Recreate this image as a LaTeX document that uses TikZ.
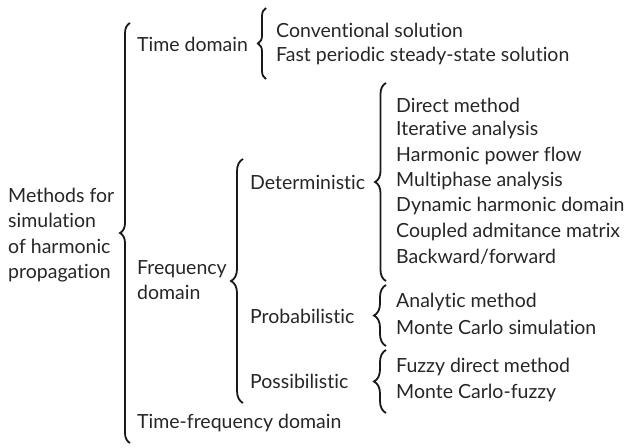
\documentclass[tikz,border=0pt]{standalone}
\usepackage{fontspec}
\setmainfont[Ligatures={CommonOff,ContextualOff}]{Lato}
\usetikzlibrary{decorations.pathreplacing}
\begin{document}
\begin{tikzpicture}[x=1pt,y=-1pt,
  lbl/.style={anchor=west,inner sep=0pt,font=\fontsize{19.5}{25.5}\selectfont,align=left,text=black!85},
  brc/.style={draw=black!90,line width=1.8pt,decorate,decoration={brace,amplitude=#1}}]
\useasboundingbox (0,0) rectangle (628,447);
% texts
\node[lbl] (root) at (8,235) {Methods for\\simulation\\of harmonic\\propagation};
\node[lbl] (time) at (137,44) {Time domain};
\node[lbl] (conv) at (276,30) {Conventional solution};
\node[lbl] (fast) at (276,56) {Fast periodic steady-state solution};
\node[lbl] (freq) at (137,280) {Frequency\\domain};
\node[lbl] (tf) at (137,423) {Time-frequency domain};
\node[lbl] (det) at (250,182) {Deterministic};
\node[lbl] (prob) at (250,316) {Probabilistic};
\node[lbl] (poss) at (250,381) {Possibilistic};
\node[lbl] (d1) at (396,105) {Direct method};
\node[lbl] (d2) at (396,130) {Iterative analysis};
\node[lbl] (d3) at (396,156) {Harmonic power flow};
\node[lbl] (d4) at (396,181) {Multiphase analysis};
\node[lbl] (d5) at (396,206) {Dynamic harmonic domain};
\node[lbl] (d6) at (396,232) {Coupled admitance matrix};
\node[lbl] (d7) at (396,257) {Backward/forward};
\node[lbl] (p1) at (396,302) {Analytic method};
\node[lbl] (p2) at (396,327) {Monte Carlo simulation};
\node[lbl] (s1) at (396,367) {Fuzzy direct method};
\node[lbl] (s2) at (396,393) {Monte Carlo-fuzzy};
% braces
\coordinate (b0t) at (130,23);  \coordinate (b0b) at (130,443);
\coordinate (b1t) at (266,8);   \coordinate (b1b) at (266,79);
\coordinate (b2t) at (243,159); \coordinate (b2b) at (243,403);
\coordinate (b3t) at (386,83);  \coordinate (b3b) at (386,281);
\coordinate (b4t) at (386,285); \coordinate (b4b) at (386,346);
\coordinate (b5t) at (386,350); \coordinate (b5b) at (386,413);
\draw[brc=10pt] (b0b) -- (b0t);
\draw[brc=8pt] (b1b) -- (b1t);
\draw[brc=12pt] (b2b) -- (b2t);
\draw[brc=11pt] (b3b) -- (b3t);
\draw[brc=12pt] (b4b) -- (b4t);
\draw[brc=12pt] (b5b) -- (b5t);
\end{tikzpicture}
\end{document}
